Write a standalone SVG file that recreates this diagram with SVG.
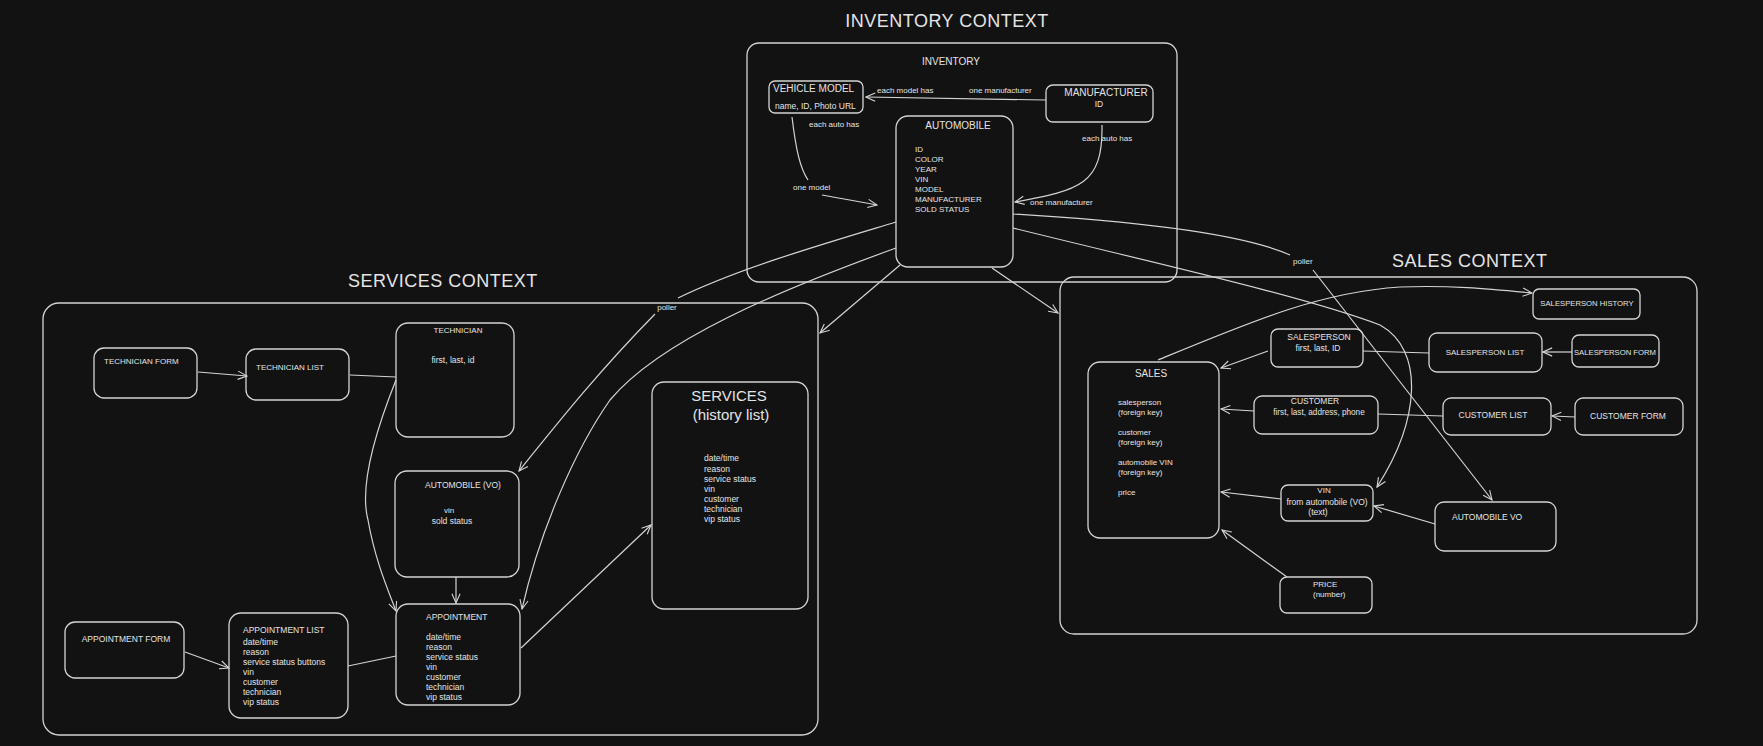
<svg xmlns="http://www.w3.org/2000/svg" width="1763" height="746" viewBox="0 0 1763 746">
<style>
.bg{fill:#121212}
.box{fill:none;stroke:#d4d4d4;stroke-width:1.3}
.ln{fill:none;stroke:#d4d4d4;stroke-width:1.2}
.t{fill:#e4e4e4;font-family:"Liberation Sans",Arial,sans-serif}
.title{font-size:18px;letter-spacing:0.5px}
.h{font-size:10px}
.s{font-size:8.5px}
.xs{font-size:8px}
.m{text-anchor:middle}
</style>
<defs>
<marker id="ah" viewBox="0 0 12 12" refX="11" refY="6" markerWidth="11" markerHeight="11" orient="auto" markerUnits="userSpaceOnUse">
<path d="M1,1.5 L11,6 L1,10.5" fill="none" stroke="#d4d4d4" stroke-width="1.2"/>
</marker>
</defs>
<rect class="bg" x="0" y="0" width="1763" height="746"/>

<g id="inventory-context">
<text class="t title m" x="947" y="27">INVENTORY CONTEXT</text>
<rect class="box" x="747" y="43" width="430" height="239" rx="12"/>
<text class="t h m" x="951" y="65">INVENTORY</text>
</g>
<g id="vehicle-model">
<rect class="box" x="769" y="81" width="94" height="32" rx="6"/>
<text class="t h" x="773" y="92">VEHICLE MODEL</text>
<text class="t s" x="775" y="109">name, ID, Photo URL</text>
</g>
<g id="manufacturer">
<rect class="box" x="1046" y="85" width="107" height="37" rx="7"/>
<text class="t h m" x="1106" y="96">MANUFACTURER</text>
<text class="t s m" x="1099" y="107">ID</text>
</g>
<g id="automobile">
<rect class="box" x="896" y="116" width="117" height="151" rx="12"/>
<text class="t h m" x="958" y="129">AUTOMOBILE</text>
<text class="t xs" x="915" y="152">ID</text>
<text class="t xs" x="915" y="162">COLOR</text>
<text class="t xs" x="915" y="172">YEAR</text>
<text class="t xs" x="915" y="182">VIN</text>
<text class="t xs" x="915" y="192">MODEL</text>
<text class="t xs" x="915" y="202">MANUFACTURER</text>
<text class="t xs" x="915" y="212">SOLD STATUS</text>
</g>

<g id="services-context">
<text class="t title" x="348" y="287">SERVICES CONTEXT</text>
<rect class="box" x="43" y="303" width="775" height="432" rx="16"/>
</g>
<g id="technician-form">
<rect class="box" x="94" y="348" width="103" height="50" rx="10"/>
<text class="t xs" x="104" y="364">TECHNICIAN FORM</text>
</g>
<g id="technician-list">
<rect class="box" x="246" y="349" width="103" height="51" rx="10"/>
<text class="t xs" x="256" y="370">TECHNICIAN LIST</text>
</g>
<g id="technician">
<rect class="box" x="396" y="323" width="118" height="114" rx="12"/>
<text class="t xs m" x="458" y="333">TECHNICIAN</text>
<text class="t s m" x="453" y="363">first, last, id</text>
</g>
<g id="automobile-vo-services">
<rect class="box" x="395" y="471" width="124" height="106" rx="12"/>
<text class="t s m" x="463" y="488">AUTOMOBILE (VO)</text>
<text class="t xs m" x="449" y="513">vin</text>
<text class="t s m" x="452" y="524">sold status</text>
</g>
<g id="appointment">
<rect class="box" x="396" y="604" width="124" height="101" rx="12"/>
<text class="t s" x="426" y="620">APPOINTMENT</text>
<text class="t s" x="426" y="640">date/time</text>
<text class="t s" x="426" y="650">reason</text>
<text class="t s" x="426" y="660">service status</text>
<text class="t s" x="426" y="670">vin</text>
<text class="t s" x="426" y="680">customer</text>
<text class="t s" x="426" y="690">technician</text>
<text class="t s" x="426" y="700">vip status</text>
</g>
<g id="appointment-form">
<rect class="box" x="65" y="622" width="119" height="56" rx="10"/>
<text class="t s m" x="126" y="642">APPOINTMENT FORM</text>
</g>
<g id="appointment-list">
<rect class="box" x="229" y="613" width="119" height="105" rx="12"/>
<text class="t s" x="243" y="633">APPOINTMENT LIST</text>
<text class="t s" x="243" y="645">date/time</text>
<text class="t s" x="243" y="655">reason</text>
<text class="t s" x="243" y="665">service status buttons</text>
<text class="t s" x="243" y="675">vin</text>
<text class="t s" x="243" y="685">customer</text>
<text class="t s" x="243" y="695">technician</text>
<text class="t s" x="243" y="705">vip status</text>
</g>
<g id="services-history">
<rect class="box" x="652" y="382" width="156" height="227" rx="12"/>
<text class="t m" style="font-size:15px" x="729" y="401">SERVICES</text>
<text class="t m" style="font-size:15px" x="731" y="420">(history list)</text>
<text class="t s" x="704" y="461">date/time</text>
<text class="t s" x="704" y="472">reason</text>
<text class="t s" x="704" y="482">service status</text>
<text class="t s" x="704" y="492">vin</text>
<text class="t s" x="704" y="502">customer</text>
<text class="t s" x="704" y="512">technician</text>
<text class="t s" x="704" y="522">vip status</text>
</g>

<g id="sales-context">
<text class="t title" x="1392" y="267">SALES CONTEXT</text>
<rect class="box" x="1060" y="277" width="637" height="357" rx="14"/>
</g>
<g id="salesperson-history">
<rect class="box" x="1533" y="289" width="107" height="30" rx="6"/>
<text class="t m" style="font-size:7.7px" x="1587" y="306">SALESPERSON HISTORY</text>
</g>
<g id="salesperson-list">
<rect class="box" x="1429" y="333" width="113" height="39" rx="8"/>
<text class="t xs m" x="1485" y="355">SALESPERSON LIST</text>
</g>
<g id="salesperson-form">
<rect class="box" x="1572" y="335" width="87" height="32" rx="7"/>
<text class="t m" style="font-size:7.7px" x="1615" y="355">SALESPERSON FORM</text>
</g>
<g id="customer-list">
<rect class="box" x="1443" y="398" width="108" height="37" rx="8"/>
<text class="t s m" x="1493" y="418">CUSTOMER LIST</text>
</g>
<g id="customer-form">
<rect class="box" x="1575" y="398" width="108" height="37" rx="8"/>
<text class="t s m" x="1628" y="419">CUSTOMER FORM</text>
</g>
<g id="salesperson">
<rect class="box" x="1271" y="329" width="92" height="38" rx="7"/>
<text class="t s m" x="1319" y="340">SALESPERSON</text>
<text class="t s m" x="1318" y="351">first, last, ID</text>
</g>
<g id="sales">
<rect class="box" x="1088" y="362" width="131" height="176" rx="12"/>
<text class="t h m" x="1151" y="377">SALES</text>
<text class="t xs" x="1118" y="405">salesperson</text>
<text class="t xs" x="1118" y="415">(foreign key)</text>
<text class="t xs" x="1118" y="435">customer</text>
<text class="t xs" x="1118" y="445">(foreign key)</text>
<text class="t xs" x="1118" y="465">automobile VIN</text>
<text class="t xs" x="1118" y="475">(foreign key)</text>
<text class="t xs" x="1118" y="495">price</text>
</g>
<g id="customer">
<rect class="box" x="1254" y="396" width="124" height="38" rx="8"/>
<text class="t s m" x="1315" y="404">CUSTOMER</text>
<text class="t m" style="font-size:8.2px" x="1319" y="415">first, last, address, phone</text>
</g>
<g id="vin">
<rect class="box" x="1281" y="485" width="92" height="36" rx="7"/>
<text class="t xs m" x="1324" y="493">VIN</text>
<text class="t s m" x="1327" y="505">from automobile (VO)</text>
<text class="t s m" x="1318" y="515">(text)</text>
</g>
<g id="automobile-vo-sales">
<rect class="box" x="1435" y="502" width="121" height="49" rx="9"/>
<text class="t s" x="1452" y="520">AUTOMOBILE VO</text>
</g>
<g id="price">
<rect class="box" x="1280" y="577" width="92" height="36" rx="7"/>
<text class="t xs" x="1313" y="587">PRICE</text>
<text class="t xs" x="1313" y="597">(number)</text>
</g>

<g id="connectors">
<path class="ln" d="M1046,100 L866,97" marker-end="url(#ah)"/>
<text class="t xs" x="877" y="93">each model has</text>
<text class="t xs" x="969" y="93">one manufacturer</text>
<path class="ln" d="M792,117 C796,150 800,168 808,180"/>
<path class="ln" d="M822,195 C845,199 860,202 877,205" marker-end="url(#ah)"/>
<text class="t xs" x="809" y="127">each auto has</text>
<text class="t xs" x="793" y="190">one model</text>
<path class="ln" d="M1102,125 C1103,185 1080,190 1015,202" marker-end="url(#ah)"/>
<text class="t xs" x="1082" y="141">each auto has</text>
<text class="t xs" x="1030" y="205">one manufacturer</text>

<path class="ln" d="M896,222 C820,245 740,268 678,298"/>
<text class="t xs m" x="667" y="310">poller</text>
<path class="ln" d="M655,314 C600,370 560,420 519,471" marker-end="url(#ah)"/>
<path class="ln" d="M896,248 C780,290 660,340 610,400 C575,450 540,530 522,609" marker-end="url(#ah)"/>
<path class="ln" d="M900,265 L820,333" marker-end="url(#ah)"/>
<path class="ln" d="M992,268 L1058,313" marker-end="url(#ah)"/>
<path class="ln" d="M1013,214 C1150,222 1245,235 1290,255"/>
<text class="t xs" x="1293" y="264">poller</text>
<path class="ln" d="M1313,270 L1492,500" marker-end="url(#ah)"/>
<path class="ln" d="M1013,228 C1150,262 1300,295 1380,325 C1425,350 1420,420 1377,487" marker-end="url(#ah)"/>

<path class="ln" d="M1158,360 C1250,322 1320,292 1400,287 C1450,285 1490,289 1532,293" marker-end="url(#ah)"/>
<path class="ln" d="M1268,351 L1221,368" marker-end="url(#ah)"/>
<path class="ln" d="M1363,351 L1429,353"/>
<path class="ln" d="M1572,352 L1543,352" marker-end="url(#ah)"/>
<path class="ln" d="M1254,411 L1221,409" marker-end="url(#ah)"/>
<path class="ln" d="M1378,414 L1443,416"/>
<path class="ln" d="M1575,417 L1552,416" marker-end="url(#ah)"/>
<path class="ln" d="M1281,499 L1221,492" marker-end="url(#ah)"/>
<path class="ln" d="M1435,524 L1374,506" marker-end="url(#ah)"/>
<path class="ln" d="M1287,577 L1222,530" marker-end="url(#ah)"/>

<path class="ln" d="M198,372 L247,376" marker-end="url(#ah)"/>
<path class="ln" d="M350,375 L396,377"/>
<path class="ln" d="M396,380 C372,440 360,490 368,520 C375,560 388,590 396,611" marker-end="url(#ah)"/>
<path class="ln" d="M456,577 L456,603" marker-end="url(#ah)"/>
<path class="ln" d="M185,652 L229,668" marker-end="url(#ah)"/>
<path class="ln" d="M348,666 L396,656"/>
<path class="ln" d="M521,648 L651,525" marker-end="url(#ah)"/>
</g>
</svg>
